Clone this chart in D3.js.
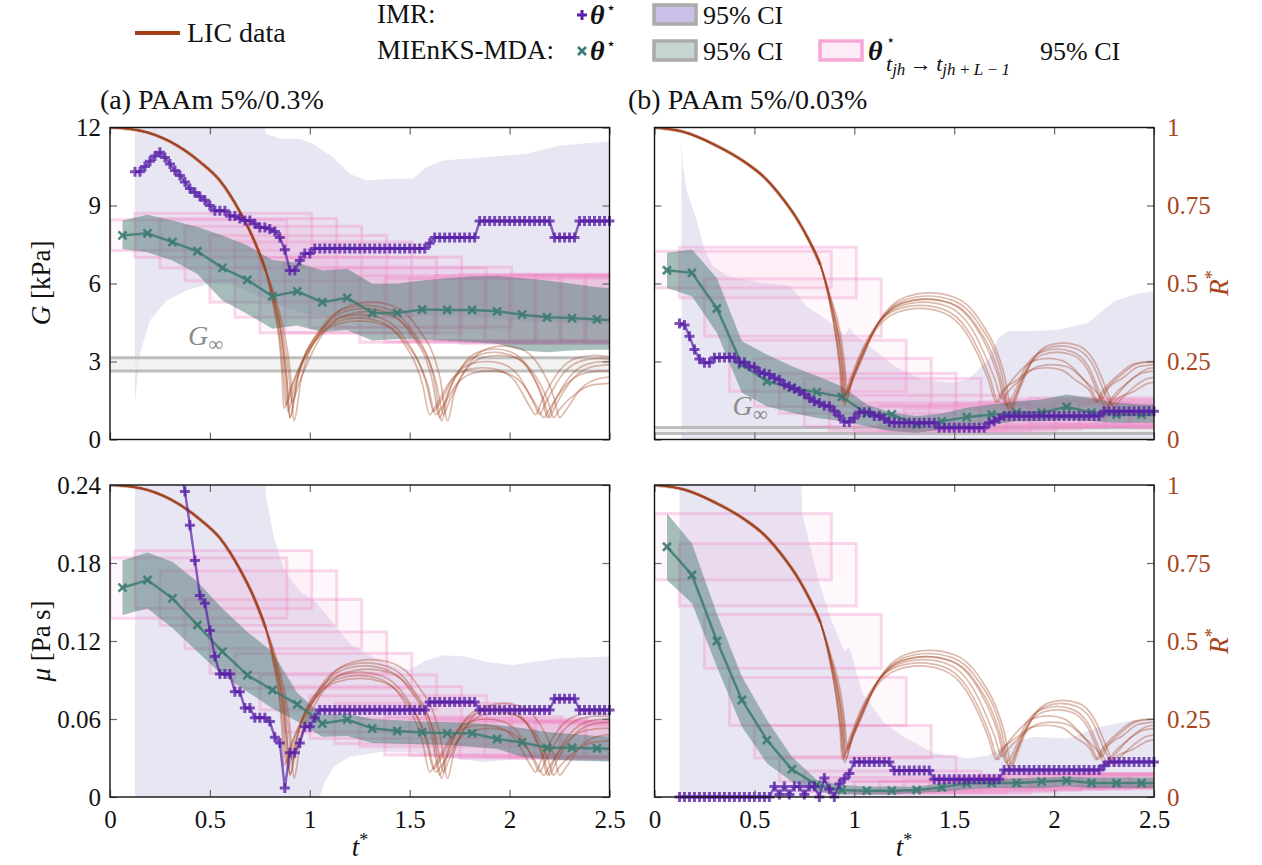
<!DOCTYPE html>
<html>
<head>
<meta charset="utf-8">
<script src="https://cdn.jsdelivr.net/npm/d3@7"></script>
<style>
  body { margin: 0; background: #fff; }
</style>
</head>
<body>
<svg id="chart" width="1262" height="865"></svg>
<script>
var FONT = '"Liberation Serif","Times New Roman",serif';

// ---------- data ----------
// MIEnKS-MDA time points (one per assimilation window)
var mienT = [0.0625,0.1875,0.3125,0.4375,0.5625,0.6875,0.8125,0.9375,1.0625,1.1875,1.3125,1.4375,1.5625,1.6875,1.8125,1.9375,2.0625,2.1875,2.3125,2.4375,2.5625];

var mienG_a   = [7.85,7.93,7.59,7.24,6.6,6.14,5.51,5.7,5.28,5.45,4.87,4.87,5.0,4.98,4.98,4.93,4.8,4.7,4.67,4.62,4.58];
var mienGup_a = [8.42,8.64,8.42,8.17,7.85,7.46,6.9,6.8,6.5,6.57,5.99,6.0,6.12,6.2,6.27,6.29,6.2,6.12,5.99,5.86,5.8];
var mienGlo_a = [7.33,7.2,6.88,6.37,5.35,4.83,4.26,4.38,4.13,4.2,3.81,3.87,3.85,3.8,3.74,3.68,3.42,3.36,3.42,3.45,3.45];

var mienG_b   = [6.51,6.41,5.04,2.88,2.24,1.99,1.82,1.64,1.0,0.96,0.58,0.7,0.86,0.96,1.03,1.03,1.26,1.03,0.96,0.96,0.96];
var mienGup_b = [7.18,7.31,6.2,3.78,3.27,2.82,2.44,2.05,1.35,1.03,0.9,1.0,1.22,1.35,1.47,1.54,1.73,1.6,1.41,1.35,1.35];
var mienGlo_b = [5.83,5.51,4.1,1.8,1.28,1.03,0.83,0.7,0.51,0.32,0.26,0.38,0.51,0.58,0.7,0.7,0.77,0.7,0.64,0.64,0.64];

var mienMu_a   = [0.161,0.1669,0.1528,0.1323,0.1118,0.0938,0.0823,0.0713,0.0565,0.0595,0.0528,0.0508,0.0497,0.049,0.049,0.0446,0.042,0.0379,0.0379,0.0374,0.037];
var mienMuup_a = [0.182,0.188,0.181,0.1656,0.145,0.127,0.1118,0.08,0.063,0.064,0.06,0.059,0.058,0.0575,0.057,0.0555,0.053,0.05,0.0485,0.047,0.046];
var mienMulo_a = [0.14,0.145,0.13,0.1118,0.0938,0.081,0.0682,0.058,0.0464,0.047,0.0415,0.041,0.0405,0.04,0.0387,0.0369,0.031,0.029,0.028,0.0277,0.0275];

var mienMu_b   = [0.1925,0.1708,0.12,0.0746,0.0438,0.0213,0.0092,0.0054,0.0049,0.0049,0.0054,0.0074,0.0105,0.0108,0.0108,0.0118,0.0126,0.0108,0.0108,0.0108,0.0108];
var mienMuup_b = [0.218,0.195,0.141,0.0926,0.0592,0.031,0.013,0.0092,0.008,0.008,0.0079,0.0105,0.013,0.0138,0.0145,0.015,0.0155,0.015,0.015,0.015,0.015];
var mienMulo_b = [0.167,0.149,0.1,0.054,0.026,0.0118,0.004,0.002,0.002,0.002,0.003,0.004,0.006,0.007,0.007,0.007,0.008,0.007,0.007,0.007,0.007];

// IMR estimates on a regular time grid
var imrT0 = 0.125, imrDt = 0.025;
var imrG_a = [10.3,10.3,10.5,10.7,10.9,11.05,10.85,10.6,10.35,10.15,
  9.9,9.65,9.5,9.35,9.2,9.0,8.8,8.8,8.8,8.6,
  8.6,8.5,8.42,8.42,8.3,8.15,8.15,8.1,8.0,7.77,
  7.3,6.5,6.5,6.88,7.15,7.15,7.35,7.35,7.35,7.35,
  7.35,7.35,7.35,7.35,7.35,7.35,7.35,7.35,7.35,7.35,
  7.35,7.35,7.35,7.35,7.35,7.35,7.35,7.35,7.35,7.55,
  7.77,7.77,7.77,7.77,7.77,7.77,7.77,7.77,7.77,8.4,
  8.4,8.4,8.4,8.4,8.4,8.4,8.4,8.4,8.4,8.4,
  8.4,8.4,8.4,8.4,7.77,7.77,7.77,7.77,7.77,8.4,
  8.4,8.4,8.4,8.4,8.4,8.4];
var imrMu_a = [0.9,0.8,0.7,0.6,0.52,0.45,0.39,0.34,0.3,0.255,
  0.235,0.209,0.182,0.155,0.149,0.128,0.108,0.0946,0.0946,0.0946,
  0.081,0.081,0.0685,0.0685,0.061,0.061,0.061,0.058,0.046,0.0415,
  0.007,0.034,0.034,0.0415,0.054,0.054,0.061,0.067,0.067,0.067,
  0.067,0.067,0.067,0.067,0.067,0.067,0.067,0.067,0.067,0.067,
  0.067,0.067,0.067,0.067,0.067,0.067,0.067,0.067,0.067,0.073,
  0.073,0.073,0.073,0.073,0.073,0.073,0.073,0.073,0.073,0.067,
  0.067,0.067,0.067,0.067,0.067,0.067,0.067,0.067,0.067,0.067,
  0.067,0.067,0.067,0.067,0.0755,0.0755,0.0755,0.0755,0.0755,0.067,
  0.067,0.067,0.067,0.067,0.067,0.067];
var imrG_b = [4.46,4.4,3.97,3.46,3.1,2.95,2.95,3.14,3.15,3.15,
  3.15,3.15,2.97,2.97,2.82,2.78,2.6,2.54,2.5,2.37,
  2.3,2.12,2.05,1.95,1.86,1.75,1.6,1.47,1.4,1.3,
  1.28,1.1,0.9,0.67,0.67,0.83,1.05,1.05,1.05,0.9,
  0.9,0.8,0.67,0.64,0.64,0.64,0.64,0.64,0.64,0.64,
  0.64,0.64,0.45,0.45,0.45,0.45,0.45,0.45,0.45,0.45,
  0.45,0.45,0.64,0.7,0.8,0.9,0.9,0.9,0.9,0.9,
  0.9,0.9,0.9,0.9,0.9,0.9,0.9,0.9,0.9,0.9,
  0.9,0.9,0.9,0.9,0.9,1.09,1.09,1.09,1.09,1.09,
  1.09,1.09,1.09,1.09,1.09,1.09];
var imrMu_b = [0,0,0,0,0,0,0,0,0,0,
  0,0,0,0,0,0,0,0,0,0.008,
  0.002,0.008,0.002,0.008,0.008,0.002,0.008,0.008,0,0.0146,
  0.006,0,0.01,0.014,0.018,0.027,0.027,0.027,0.027,0.027,
  0.027,0.027,0.027,0.0203,0.0203,0.0203,0.0203,0.0203,0.0203,0.0203,
  0.0203,0.0136,0.0136,0.0136,0.0136,0.0136,0.0136,0.0136,0.0136,0.0136,
  0.0136,0.0136,0.0136,0.0136,0.0136,0.0208,0.0208,0.0208,0.0208,0.0208,
  0.0208,0.0208,0.0208,0.0208,0.0208,0.0208,0.0208,0.0208,0.0208,0.0208,
  0.0208,0.0208,0.0208,0.0208,0.0208,0.024,0.027,0.027,0.027,0.027,
  0.027,0.027,0.027,0.027,0.027,0.027];

// IMR 95% CI edges as [t, value]
var imrCiUpG_a = [[0.125,12.5],[0.76,12.5],[0.78,11.77],[0.85,11.58],[0.95,11.57],[1.017,11.37],[1.117,10.86],[1.2,10.22],[1.283,9.96],[1.4,10.03],[1.517,10.03],[1.583,10.47],[1.667,10.73],[1.867,10.86],[2.083,10.99],[2.25,11.31],[2.5,11.47],[2.6,11.5]];
var imrCiLoG_a = [[0.125,1.4],[0.15,3.3],[0.2,4.58],[0.283,5.35],[0.383,5.73],[0.5,6.0],[0.6,6.0],[0.75,5.5],[0.9,5.0],[1.0,4.8],[1.2,4.65],[1.4,4.7],[1.6,4.75],[1.8,4.7],[2.0,4.6],[2.2,4.5],[2.5,4.45],[2.6,4.45]];
var imrCiUpG_b = [[0.135,11.7],[0.14,10.7],[0.16,9.6],[0.21,8.46],[0.25,7.3],[0.29,6.67],[0.37,6.28],[0.45,6.15],[0.53,6.03],[0.68,5.9],[0.76,5.13],[0.86,4.62],[0.955,4.0],[0.975,4.3],[1.0,4.05],[1.1,3.46],[1.2,2.82],[1.27,2.56],[1.335,2.31],[1.485,2.18],[1.57,2.31],[1.67,3.08],[1.72,3.9],[1.77,4.17],[1.9,4.17],[2.03,4.23],[2.17,4.49],[2.3,5.32],[2.4,5.58],[2.5,5.7],[2.6,5.75]];
var imrCiLoG_b = [[0.135,-1],[2.6,-1]];
var imrCiUpMu_a = [[0.125,0.3],[0.76,0.3],[0.78,0.232],[0.82,0.2],[0.87,0.175],[0.95,0.158],[1.03,0.15],[1.117,0.1336],[1.2,0.118],[1.28,0.1105],[1.38,0.1028],[1.5,0.0977],[1.58,0.105],[1.67,0.109],[1.78,0.108],[1.88,0.104],[2.02,0.1015],[2.12,0.104],[2.25,0.1067],[2.5,0.108],[2.6,0.108]];
var imrCiLoMu_a = [[0.125,-0.01],[1.03,-0.01],[1.07,0.01],[1.12,0.0233],[1.2,0.031],[1.37,0.035],[1.53,0.034],[1.7,0.03],[1.87,0.027],[2.03,0.029],[2.2,0.028],[2.5,0.027],[2.6,0.027]];
var imrCiUpMu_b = [[0.125,0.3],[0.72,0.3],[0.74,0.218],[0.82,0.167],[0.89,0.134],[0.95,0.112],[0.975,0.1156],[1.04,0.08],[1.15,0.0567],[1.25,0.046],[1.4,0.0336],[1.57,0.0298],[1.67,0.032],[1.77,0.0413],[1.9,0.0464],[2.07,0.045],[2.23,0.054],[2.4,0.059],[2.5,0.06],[2.6,0.06]];
var imrCiLoMu_b = [[0.125,-0.01],[2.6,-0.01]];

// windowed MIEnKS-MDA 95% CI boxes: [upper, lower] per window start
var boxStart = [0,0.125,0.25,0.375,0.5,0.625,0.75,0.875,1,1.125,1.25,1.375,1.5,1.625,1.75,1.875,2,2.125,2.25,2.375];
var boxLen = 0.885;
var boxG_a = [[8.45,7.27],[8.7,7.0],[8.5,6.6],[8.2,6.1],[7.85,5.28],[7.6,4.7],[7.0,4.1],[7.02,4.1],[6.6,4.3],[6.63,4.32],[6.3,3.74],[6.2,3.75],[6.2,3.8],[6.3,3.8],[6.35,3.7],[6.3,3.75],[6.35,3.7],[6.3,3.75],[6.25,3.8],[6.2,3.75]];
var boxG_b = [[7.24,5.83],[7.4,5.45],[6.18,3.97],[3.82,1.85],[3.12,1.27],[2.54,1.0],[2.35,0.5],[1.7,0.35],[1.4,0.3],[1.3,0.35],[1.2,0.4],[1.3,0.45],[1.4,0.5],[1.45,0.55],[1.55,0.6],[1.6,0.6],[1.5,0.55],[1.4,0.5],[1.35,0.5],[1.3,0.45]];
var boxMu_a = [[0.184,0.1375],[0.1895,0.145],[0.174,0.132],[0.152,0.114],[0.127,0.095],[0.1105,0.0836],[0.094,0.067],[0.085,0.05],[0.078,0.045],[0.072,0.041],[0.0605,0.0387],[0.0618,0.0323],[0.06,0.032],[0.058,0.031],[0.059,0.03],[0.058,0.031],[0.057,0.03],[0.058,0.031],[0.056,0.03],[0.055,0.031]];
var boxMu_b = [[0.218,0.167],[0.195,0.147],[0.1405,0.099],[0.092,0.055],[0.055,0.03],[0.031,0.012],[0.02,0.004],[0.015,0.003],[0.012,0.003],[0.012,0.004],[0.013,0.005],[0.014,0.006],[0.016,0.006],[0.017,0.007],[0.018,0.007],[0.018,0.008],[0.017,0.007],[0.018,0.008],[0.017,0.007],[0.017,0.008]];

// G_infinity bands [low, high]
var gInf_a = [2.63, 3.14];
var gInf_b = [0.23, 0.46];

// LIC radius data R*(t*): shared collapse + individual tails
var licShare_a = [[0,1],[0.15,0.99],[0.3,0.955],[0.45,0.89],[0.55,0.83],[0.65,0.73],[0.72,0.64],[0.78,0.54]];
var licTails_a = [
  [[0.82,0.45],[0.86,0.33],[0.885,0.2],[0.9,0.07],[0.9375,0.19],[1.05,0.344],[1.1625,0.407],[1.275,0.42],[1.3875,0.407],[1.5,0.344],[1.6125,0.19],[1.65,0.07],[1.6775,0.126],[1.76,0.23],[1.8425,0.27],[1.925,0.28],[2.0075,0.27],[2.09,0.23],[2.1725,0.126],[2.2,0.07],[2.23,0.108],[2.32,0.197],[2.41,0.233],[2.5,0.24]],
  [[0.82,0.43],[0.85,0.32],[0.868,0.21],[0.88,0.11],[0.917,0.18],[1.028,0.328],[1.139,0.388],[1.25,0.4],[1.361,0.388],[1.472,0.328],[1.583,0.18],[1.62,0.09],[1.6465,0.1125],[1.726,0.205],[1.8055,0.2425],[1.885,0.25],[1.9645,0.2425],[2.044,0.205],[2.1235,0.1125],[2.15,0.08],[2.18,0.117],[2.27,0.213],[2.36,0.252],[2.45,0.26],[2.5,0.258]],
  [[0.82,0.47],[0.87,0.35],[0.903,0.21],[0.92,0.06],[0.9585,0.198],[1.074,0.361],[1.1895,0.427],[1.305,0.44],[1.4205,0.427],[1.536,0.361],[1.6515,0.198],[1.69,0.06],[1.718,0.135],[1.802,0.246],[1.886,0.291],[1.97,0.3],[2.054,0.291],[2.138,0.246],[2.222,0.135],[2.25,0.07],[2.277,0.09],[2.358,0.164],[2.439,0.194],[2.5,0.2]],
  [[0.82,0.44],[0.855,0.33],[0.876,0.21],[0.89,0.09],[0.9255,0.1755],[1.032,0.32],[1.1385,0.378],[1.245,0.39],[1.3515,0.378],[1.458,0.32],[1.5645,0.1755],[1.6,0.08],[1.6265,0.1035],[1.706,0.189],[1.7855,0.223],[1.865,0.23],[1.9445,0.223],[2.024,0.189],[2.1035,0.1035],[2.13,0.08],[2.16,0.1215],[2.25,0.221],[2.34,0.262],[2.43,0.27],[2.5,0.265]],
  [[0.82,0.46],[0.865,0.34],[0.893,0.22],[0.91,0.12],[0.948,0.1845],[1.062,0.336],[1.176,0.398],[1.29,0.41],[1.404,0.398],[1.518,0.336],[1.632,0.1845],[1.67,0.08],[1.6975,0.1215],[1.78,0.221],[1.8625,0.262],[1.945,0.27],[2.0275,0.262],[2.11,0.221],[2.1925,0.1215],[2.22,0.07],[2.248,0.095],[2.332,0.148],[2.416,0.175],[2.5,0.18]],
  [[0.82,0.45],[0.86,0.33],[0.885,0.19],[0.9,0.07],[0.938,0.1935],[1.052,0.353],[1.166,0.417],[1.28,0.43],[1.394,0.417],[1.508,0.353],[1.622,0.1935],[1.66,0.06],[1.6865,0.1305],[1.766,0.238],[1.8455,0.281],[1.925,0.29],[2.0045,0.281],[2.084,0.238],[2.1635,0.1305],[2.19,0.07],[2.219,0.1125],[2.306,0.205],[2.393,0.2425],[2.48,0.25],[2.5,0.25]],
  [[0.82,0.42],[0.845,0.33],[0.86,0.22],[0.87,0.1],[0.908,0.171],[1.022,0.312],[1.136,0.369],[1.25,0.38],[1.364,0.369],[1.478,0.312],[1.592,0.171],[1.63,0.08],[1.657,0.099],[1.738,0.18],[1.819,0.213],[1.9,0.22],[1.981,0.213],[2.062,0.18],[2.143,0.099],[2.17,0.07],[2.2,0.099],[2.29,0.18],[2.38,0.213],[2.47,0.22],[2.5,0.22]]
];
var licShare_b = [[0,1],[0.15,0.985],[0.3,0.945],[0.45,0.89],[0.55,0.84],[0.65,0.765],[0.72,0.7],[0.78,0.63],[0.83,0.56]];
var licTails_b = [
  [[0.88,0.45],[0.92,0.33],[0.942,0.23],[0.955,0.14],[0.995,0.2025],[1.116,0.369],[1.237,0.4365],[1.3575,0.45],[1.478,0.4365],[1.599,0.369],[1.72,0.2025],[1.76,0.11],[1.7855,0.1305],[1.862,0.238],[1.9385,0.281],[2.015,0.29],[2.0915,0.281],[2.168,0.238],[2.2445,0.1305],[2.27,0.11],[2.298,0.13],[2.382,0.19],[2.466,0.226],[2.5,0.23]],
  [[0.88,0.43],[0.91,0.32],[0.928,0.22],[0.94,0.12],[0.979,0.1935],[1.096,0.353],[1.213,0.417],[1.33,0.43],[1.447,0.417],[1.564,0.353],[1.681,0.1935],[1.72,0.12],[1.745,0.15],[1.82,0.213],[1.895,0.252],[1.97,0.26],[2.045,0.252],[2.12,0.213],[2.195,0.15],[2.22,0.12],[2.248,0.15],[2.332,0.205],[2.416,0.2425],[2.5,0.25]],
  [[0.88,0.46],[0.93,0.34],[0.952,0.24],[0.965,0.16],[1.006,0.2115],[1.13,0.385],[1.254,0.456],[1.3775,0.47],[1.501,0.456],[1.625,0.385],[1.749,0.2115],[1.79,0.1],[1.8155,0.14],[1.892,0.254],[1.9685,0.301],[2.045,0.31],[2.1215,0.301],[2.198,0.254],[2.2745,0.14],[2.3,0.1],[2.323,0.12],[2.392,0.164],[2.461,0.194],[2.5,0.199]],
  [[0.88,0.44],[0.915,0.32],[0.937,0.21],[0.95,0.11],[0.9895,0.198],[1.108,0.361],[1.2265,0.427],[1.345,0.44],[1.4635,0.427],[1.582,0.361],[1.7005,0.198],[1.74,0.13],[1.765,0.15],[1.84,0.197],[1.915,0.233],[1.99,0.24],[2.065,0.233],[2.14,0.197],[2.215,0.15],[2.24,0.13],[2.266,0.16],[2.344,0.197],[2.422,0.233],[2.5,0.24]],
  [[0.88,0.45],[0.925,0.33],[0.947,0.24],[0.96,0.15],[1.001,0.207],[1.124,0.377],[1.247,0.446],[1.37,0.46],[1.493,0.446],[1.616,0.377],[1.739,0.207],[1.78,0.09],[1.8055,0.135],[1.882,0.246],[1.9585,0.291],[2.035,0.3],[2.1115,0.291],[2.188,0.246],[2.2645,0.135],[2.29,0.11],[2.316,0.13],[2.394,0.152],[2.472,0.18],[2.5,0.182]],
  [[0.88,0.43],[0.91,0.32],[0.932,0.22],[0.945,0.13],[0.983,0.189],[1.098,0.344],[1.213,0.407],[1.3275,0.42],[1.442,0.407],[1.557,0.344],[1.672,0.189],[1.71,0.12],[1.735,0.15],[1.81,0.189],[1.885,0.223],[1.96,0.23],[2.035,0.223],[2.11,0.189],[2.185,0.15],[2.21,0.12],[2.237,0.15],[2.318,0.205],[2.399,0.2425],[2.48,0.25],[2.5,0.25]],
  [[0.88,0.44],[0.92,0.33],[0.942,0.22],[0.955,0.12],[0.996,0.2025],[1.118,0.369],[1.24,0.4365],[1.3625,0.45],[1.485,0.4365],[1.607,0.369],[1.729,0.2025],[1.77,0.1],[1.7945,0.126],[1.868,0.23],[1.9415,0.2715],[2.015,0.28],[2.0885,0.2715],[2.162,0.23],[2.2355,0.126],[2.26,0.1],[2.286,0.13],[2.364,0.18],[2.442,0.213],[2.5,0.219]]
];

var xTicks = [0, 0.5, 1, 1.5, 2, 2.5];
var gTicks = [0, 3, 6, 9, 12];
var muTicks = [0, 0.06, 0.12, 0.18, 0.24];
var rTicks = [0, 0.25, 0.5, 0.75, 1];

// ---------- layout ----------
var colRange = [[110, 609.5], [654.5, 1154]];
var rowRange = [[439.5, 127.5], [797, 485]];

var C = {
  lic: '#a0401c', licLeg: '#a33d15', rAxis: '#a8461e',
  imr: '#5820a6', imrCi: '#e9e6f4',
  mien: '#3c7b71', mienCi: '#3b746c',
  box: '#f08cc8', boxFill: '#f5a3d3'
};

var svg = d3.select('#chart');

var panels = [
  { id: 'aG', col: 0, row: 0, dom: [0, 12], ticks: gTicks, imr: imrG_a, mien: mienG_a, up: mienGup_a, lo: mienGlo_a,
    ciUp: imrCiUpG_a, ciLo: imrCiLoG_a, boxes: boxG_a, lic: [licShare_a, licTails_a], ginf: gInf_a },
  { id: 'bG', col: 1, row: 0, dom: [0, 12], ticks: gTicks, imr: imrG_b, mien: mienG_b, up: mienGup_b, lo: mienGlo_b,
    ciUp: imrCiUpG_b, ciLo: imrCiLoG_b, boxes: boxG_b, lic: [licShare_b, licTails_b], ginf: gInf_b },
  { id: 'aM', col: 0, row: 1, dom: [0, 0.24], ticks: muTicks, imr: imrMu_a, mien: mienMu_a, up: mienMuup_a, lo: mienMulo_a,
    ciUp: imrCiUpMu_a, ciLo: imrCiLoMu_a, boxes: boxMu_a, lic: [licShare_a, licTails_a] },
  { id: 'bM', col: 1, row: 1, dom: [0, 0.24], ticks: muTicks, imr: imrMu_b, mien: mienMu_b, up: mienMuup_b, lo: mienMulo_b,
    ciUp: imrCiUpMu_b, ciLo: imrCiLoMu_b, boxes: boxMu_b, lic: [licShare_b, licTails_b] }
];

var plusPath = 'M-5,0H5M0,-5V5';
var crossPath = 'M-4,-4L4,4M-4,4L4,-4';

function styleAxis(sel, labelColor) {
  sel.select('.domain').remove();
  sel.selectAll('.tick line').attr('stroke', '#6a6a6a').attr('stroke-width', 1.2);
  sel.selectAll('.tick text').attr('font-family', FONT).attr('font-size', 25).attr('fill', labelColor || '#111');
}

function drawPanel(p) {
  var x = d3.scaleLinear().domain([0, 2.5]).range(colRange[p.col]);
  var y = d3.scaleLinear().domain(p.dom).range(rowRange[p.row]);
  var r = d3.scaleLinear().domain([0, 1]).range(rowRange[p.row]);
  var x0 = colRange[p.col][0], x1 = colRange[p.col][1];
  var yT = rowRange[p.row][1], yB = rowRange[p.row][0];

  svg.append('clipPath').attr('id', 'clip-' + p.id)
    .append('rect').attr('x', x0).attr('y', yT).attr('width', x1 - x0).attr('height', yB - yT);

  var plot = svg.append('g').attr('clip-path', 'url(#clip-' + p.id + ')');

  // IMR 95% CI
  var poly = p.ciUp.concat(p.ciLo.slice().reverse());
  plot.append('path')
    .attr('d', d3.line().x(function(d) { return x(d[0]); }).y(function(d) { return y(d[1]); })(poly) + 'Z')
    .attr('fill', C.imrCi);

  // G_infinity band
  if (p.ginf) {
    plot.append('rect').attr('x', x0).attr('width', x1 - x0)
      .attr('y', y(p.ginf[1])).attr('height', y(p.ginf[0]) - y(p.ginf[1]))
      .attr('fill', '#ececec').attr('opacity', 0.7);
    p.ginf.forEach(function(v) {
      plot.append('line').attr('x1', x0).attr('x2', x1).attr('y1', y(v)).attr('y2', y(v))
        .attr('stroke', '#b0b0b0').attr('stroke-width', 3).attr('opacity', 0.8);
    });
  }

  // windowed CI boxes
  plot.selectAll('.box').data(p.boxes).enter().append('rect')
    .attr('class', 'box')
    .attr('x', function(d, i) { return x(boxStart[i]); })
    .attr('width', function(d, i) { return x(boxStart[i] + boxLen) - x(boxStart[i]); })
    .attr('y', function(d) { return y(d[0]); })
    .attr('height', function(d) { return Math.max(1, y(d[1]) - y(d[0])); })
    .attr('fill', C.boxFill).attr('fill-opacity', 0.09)
    .attr('stroke', C.box).attr('stroke-opacity', 0.34).attr('stroke-width', 3);

  // MIEnKS-MDA 95% CI band
  var band = mienT.map(function(t, i) { return [t, p.lo[i], p.up[i]]; });
  plot.append('path')
    .attr('d', d3.area().x(function(d) { return x(d[0]); })
      .y0(function(d) { return y(d[1]); }).y1(function(d) { return y(d[2]); })(band))
    .attr('fill', C.mienCi).attr('opacity', 0.45);

  // LIC radius traces
  var licLine = d3.line().curve(d3.curveMonotoneX)
    .x(function(d) { return x(d[0]); }).y(function(d) { return r(d[1]); });
  plot.append('path').attr('d', licLine(p.lic[0]))
    .attr('fill', 'none').attr('stroke', C.lic).attr('stroke-width', 3.5).attr('stroke-opacity', 0.45);
  p.lic[1].forEach(function(tail) {
    plot.append('path').attr('d', licLine(p.lic[0].concat(tail)))
      .attr('fill', 'none').attr('stroke', C.lic).attr('stroke-width', 1.7).attr('stroke-opacity', 0.36);
  });

  // MIEnKS-MDA estimate
  var mienPts = mienT.map(function(t, i) { return [t, p.mien[i]]; });
  var ln = d3.line().x(function(d) { return x(d[0]); }).y(function(d) { return y(d[1]); });
  plot.append('path').attr('d', ln(mienPts))
    .attr('fill', 'none').attr('stroke', C.mien).attr('stroke-width', 2.5).attr('stroke-opacity', 0.85);

  // IMR estimate
  var imrPts = p.imr.map(function(v, k) { return [imrT0 + k * imrDt, v]; });
  plot.append('path').attr('d', ln(imrPts))
    .attr('fill', 'none').attr('stroke', C.imr).attr('stroke-width', 2.4).attr('stroke-opacity', 0.7);

  var span = p.dom[1] - p.dom[0];
  var inside = function(d) { return d[0] <= 2.51 && d[1] >= p.dom[0] - 0.01 * span && d[1] <= p.dom[1] + 0.01 * span; };

  svg.append('g').selectAll('path').data(mienPts.filter(inside)).enter().append('path')
    .attr('d', crossPath)
    .attr('transform', function(d) { return 'translate(' + x(d[0]) + ',' + y(d[1]) + ')'; })
    .attr('stroke', C.mien).attr('stroke-width', 2.6).attr('fill', 'none').attr('opacity', 0.9);

  svg.append('g').selectAll('path').data(imrPts.filter(inside)).enter().append('path')
    .attr('d', plusPath)
    .attr('transform', function(d) { return 'translate(' + x(d[0]) + ',' + y(d[1]) + ')'; })
    .attr('stroke', C.imr).attr('stroke-width', 3).attr('fill', 'none').attr('opacity', 0.78);

  // G_infinity label
  if (p.ginf) {
    var gl = svg.append('text').attr('x', x(0.39)).attr('y', y(p.ginf[1]) - 13)
      .attr('font-family', FONT).attr('font-size', 28).attr('fill', '#8c8c8c');
    gl.append('tspan').attr('font-style', 'italic').text('G');
    gl.append('tspan').attr('font-size', 21).attr('dy', 6).text('\u221E');
  }

  // axes (ticks point inward)
  var bottom = d3.axisBottom(x).tickValues(xTicks).tickSize(-7).tickPadding(13)
    .tickFormat(p.row === 1 ? d3.format('') : function() { return ''; });
  styleAxis(svg.append('g').attr('transform', 'translate(0,' + yB + ')').call(bottom));
  var top = d3.axisTop(x).tickValues(xTicks).tickSize(-7).tickFormat(function() { return ''; });
  styleAxis(svg.append('g').attr('transform', 'translate(0,' + yT + ')').call(top));

  var left = d3.axisLeft(y).tickValues(p.ticks).tickSize(-7).tickPadding(9)
    .tickFormat(p.col === 0 ? d3.format('') : function() { return ''; });
  styleAxis(svg.append('g').attr('transform', 'translate(' + x0 + ',0)').call(left));

  var right;
  if (p.col === 1) {
    right = d3.axisRight(r).tickValues(rTicks).tickSize(-7).tickPadding(13).tickFormat(d3.format(''));
    styleAxis(svg.append('g').attr('transform', 'translate(' + x1 + ',0)').call(right), C.rAxis);
  } else {
    right = d3.axisRight(y).tickValues(p.ticks).tickSize(-7).tickFormat(function() { return ''; });
    styleAxis(svg.append('g').attr('transform', 'translate(' + x1 + ',0)').call(right));
  }

  svg.append('rect').attr('x', x0).attr('y', yT).attr('width', x1 - x0).attr('height', yB - yT)
    .attr('fill', 'none').attr('stroke', '#111').attr('stroke-width', 1.4);
}

panels.forEach(drawPanel);

// ---------- labels ----------
function txt(x, y, size) {
  return svg.append('text').attr('x', x).attr('y', y).attr('font-family', FONT)
    .attr('font-size', size || 27).attr('fill', '#111');
}

txt(100, 109, 28).text('(a) PAAm 5%/0.3%');
txt(628, 109, 28).text('(b) PAAm 5%/0.03%');

// y axis titles
[[283, 'G', ' [kPa]'], [641, '\u03BC', ' [Pa\u2009s]']].forEach(function(d) {
  var t = svg.append('text').attr('transform', 'translate(50,' + d[0] + ') rotate(-90)')
    .attr('text-anchor', 'middle').attr('font-family', FONT).attr('font-size', 27).attr('fill', '#111');
  t.append('tspan').attr('font-style', 'italic').text(d[1]);
  t.append('tspan').text(d[2]);
});
[283, 641].forEach(function(cy) {
  var t = svg.append('text').attr('transform', 'translate(1228,' + cy + ') rotate(-90)')
    .attr('text-anchor', 'middle').attr('font-family', FONT).attr('font-size', 27).attr('fill', C.rAxis);
  t.append('tspan').attr('font-style', 'italic').text('R');
  t.append('tspan').attr('font-size', 18).attr('dy', -10).text('*');
});
[360, 904].forEach(function(cx) {
  var t = svg.append('text').attr('x', cx).attr('y', 856).attr('text-anchor', 'middle')
    .attr('font-family', FONT).attr('font-size', 27).attr('fill', '#111');
  t.append('tspan').attr('font-style', 'italic').text('t');
  t.append('tspan').attr('font-size', 18).attr('dy', -10).text('*');
});

// ---------- legend ----------
svg.append('line').attr('x1', 135).attr('x2', 180).attr('y1', 33).attr('y2', 33)
  .attr('stroke', C.licLeg).attr('stroke-width', 4);
txt(187, 42, 28).text('LIC data');
txt(377, 23).text('IMR:');
txt(377, 59).text('MIEnKS-MDA:');

function theta(x, y) {
  var t = txt(x, y, 28);
  t.append('tspan').attr('font-weight', 'bold').attr('font-style', 'italic').text('\u03B8');
  return t;
}
svg.append('path').attr('d', plusPath).attr('transform', 'translate(582,15)')
  .attr('stroke', C.imr).attr('stroke-width', 3).attr('fill', 'none');
theta(590, 24);
txt(606, 13, 16).text('\u22C6');
svg.append('path').attr('d', crossPath).attr('transform', 'translate(582,51)')
  .attr('stroke', C.mien).attr('stroke-width', 2.6).attr('fill', 'none');
theta(590, 60);
txt(606, 49, 16).text('\u22C6');

svg.append('rect').attr('x', 654).attr('y', 5).attr('width', 42).attr('height', 19)
  .attr('fill', '#cbbfe7').attr('stroke', '#ababab').attr('stroke-width', 3.5);
txt(703, 24, 26).text('95% CI');
svg.append('rect').attr('x', 654).attr('y', 41).attr('width', 42).attr('height', 19)
  .attr('fill', '#c4d5d2').attr('stroke', '#ababab').attr('stroke-width', 3.5);
txt(703, 60, 26).text('95% CI');

svg.append('rect').attr('x', 820).attr('y', 41).attr('width', 42).attr('height', 19)
  .attr('fill', '#fdebf5').attr('stroke', '#f7a6d8').attr('stroke-width', 3.5);
theta(868, 60);
txt(886, 45, 15).text('\u22C6');
var sub = txt(886, 71, 22);
sub.append('tspan').attr('font-style', 'italic').text('t');
sub.append('tspan').attr('font-style', 'italic').attr('font-size', 17).attr('dy', 4).text('jh');
sub.append('tspan').attr('dy', -4).text('\u2009\u2192\u2009');
sub.append('tspan').attr('font-style', 'italic').text('t');
sub.append('tspan').attr('font-style', 'italic').attr('font-size', 17).attr('dy', 4).text('jh\u2009+\u2009L\u2009\u2212\u20091');
txt(1040, 60, 26).text('95% CI');
</script>
</body>
</html>
